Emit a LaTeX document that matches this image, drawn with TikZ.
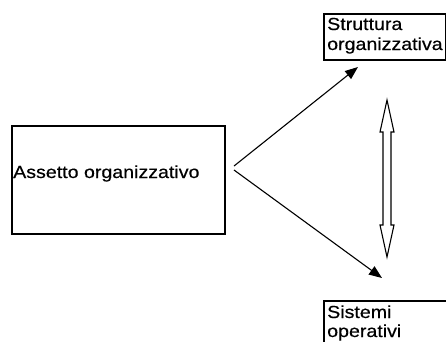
\documentclass[tikz,border=0pt]{standalone}
\usepackage{fontspec}
\setmainfont[FakeStretch=1.12,FakeBold=0.4]{Liberation Sans}
\usetikzlibrary{arrows.meta}
\begin{document}
\begin{tikzpicture}[x=1pt,y=-1pt,
  box/.style={draw=black,line width=1.8pt,inner sep=0pt},
  txt/.style={inner sep=0pt,anchor=base west,font=\fontsize{17.5}{20}\selectfont},
  conn/.style={line width=1.1pt,-{Triangle[length=13pt,width=10pt]}}]
\useasboundingbox (0,0) rectangle (446,341);
\clip (0,0) rectangle (446,341);
\fill[white] (0,0) rectangle (446,341);
% boxes
\node[box,minimum width=213pt,minimum height=108pt,anchor=north west] (A) at (11,125) {};
\node[box,minimum width=122pt,minimum height=46pt,anchor=north west] (S) at (323,13) {};
\node[box,minimum width=140pt,minimum height=60pt,anchor=north west] (O) at (323,300) {};
% texts
\node[txt] (tA) at (13,178) {Assetto organizzativo};
\node[txt] (tS1) at (327,30) {Struttura};
\node[txt] (tS2) at (327,50) {organizzativa};
\node[txt] (tO1) at (327,318) {Sistemi};
\node[txt] (tO2) at (327,337) {operativi};
% connectors
\coordinate (a1) at (234,166);
\coordinate (a2) at (234,170);
\coordinate (s1) at (358,67);
\coordinate (o1) at (382,278);
\draw[conn] (a1) -- (s1);
\draw[conn] (a2) -- (o1);
% double arrow
\draw[line width=1.1pt,line join=miter,fill=white]
  (387,100) -- (394,132) -- (391,132) -- (391,225) -- (394,225) -- (387,257)
  -- (380,225) -- (383,225) -- (383,132) -- (380,132) -- cycle;
\end{tikzpicture}
\end{document}
